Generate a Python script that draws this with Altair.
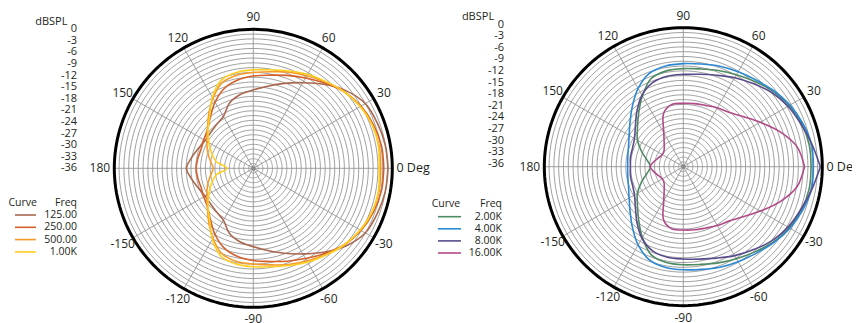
import altair as alt
import pandas as pd
import numpy as np

# ---------------- data ----------------
ANGLES = [0, 10, 20, 30, 40, 50, 60, 70, 80, 90, 100, 110, 120, 130, 140, 150, 160, 170, 180]

LEFT_FREQS = ["125.00", "250.00", "500.00", "1.00K"]
LEFT_COLORS = ["#a9684f", "#d4612b", "#f59b2c", "#ffcf1f"]
DB_125 = [-1.1, -1.3, -1.8, -2.5, -4.7, -7.6, -10.4, -12.6, -14.4, -15.7, -16.6, -18.0, -20.5, -21.2, -21.6, -21.6, -20.9, -19.8, -18.7]
DB_250 = [-2.2, -2.3, -2.9, -3.8, -5.2, -7.2, -9.0, -10.4, -11.5, -12.1, -12.8, -14.0, -16.2, -18.7, -20.5, -21.2, -21.6, -21.4, -21.2]
DB_500 = [-3.0, -2.9, -3.2, -4.0, -5.2, -6.8, -8.3, -9.5, -10.6, -11.2, -11.5, -12.4, -15.1, -18.0, -20.5, -22.1, -23.4, -24.7, -25.6]
DB_1K = [-3.4, -3.1, -3.2, -4.0, -5.2, -6.7, -7.9, -9.2, -10.1, -10.5, -10.8, -11.7, -14.8, -18.4, -20.7, -22.7, -24.5, -26.3, -29.2]

RIGHT_FREQS = ["2.00K", "4.00K", "8.00K", "16.00K"]
RIGHT_COLORS = ["#4e8a63", "#2b88d3", "#5a4b8b", "#b04a88"]
DB_2K = [-2.9, -2.9, -3.4, -4.3, -5.6, -7.2, -8.5, -9.5, -10.3, -10.6, -10.8, -11.7, -14.8, -18.0, -20.5, -22.3, -24.5, -26.5, -27.5]
DB_4K = [-2.3, -2.3, -3.1, -4.1, -5.4, -6.7, -7.6, -8.3, -9.0, -9.3, -9.5, -10.3, -12.6, -15.5, -18.0, -19.8, -20.9, -21.4, -21.6]
DB_8K = [-0.5, -2.2, -3.6, -4.7, -6.1, -7.9, -9.4, -10.8, -11.7, -12.1, -12.2, -12.8, -14.6, -17.3, -19.8, -21.4, -22.0, -22.1, -22.3]
DB_16K = [-4.6, -6.1, -9.4, -13.0, -15.8, -17.6, -18.4, -19.1, -19.4, -19.6, -19.6, -21.2, -25.9, -28.3, -29.5, -29.7, -29.2, -28.3, -27.4]

DB_TICKS = [0, -3, -6, -9, -12, -15, -18, -21, -24, -27, -30, -33, -36]
ANGLE_TICKS = [90, 60, 30, -30, -60, -90, -120, -150, 150, 120]
SPOKES = [0, 30, 60, 90, 120, 150, 180, 210, 240, 270, 300, 330]
DB_MIN = -36
RING_COUNT = 29

FONT = "Open Sans"
TXT = "#231f20"
GRID = "#959595"


def curve_frame(freqs, series):
    rows = []
    for f, vals in zip(freqs, series):
        half = list(zip(ANGLES, vals))
        full = half + [(-a, v) for a, v in reversed(half[1:-1])] + [half[0]]
        for i, (a, v) in enumerate(full):
            rows.append(dict(freq=f, angle=a, db=v, order=i))
    return pd.DataFrame(rows)


ring_df = pd.DataFrame(
    [dict(ring=k, r=k / RING_COUNT, angle=a) for k in range(1, RING_COUNT) for a in range(0, 361, 3)]
)
outer_df = pd.DataFrame([dict(ring=0, r=1.0, angle=a) for a in range(0, 361, 2)])
spoke_df = pd.DataFrame({"angle": SPOKES})
db_df = pd.DataFrame({"db": DB_TICKS, "label": [str(v) for v in DB_TICKS]})
ang_df = pd.DataFrame({"angle": ANGLE_TICKS, "label": [str(v) for v in ANGLE_TICKS]})
one_df = pd.DataFrame({"v": [0]})

R_PX = 139.0
PAGE_W = 844   # drawable width inside the 8px page margins
PAGE_H = 315


def panel(freqs, colors, series, cx_px, cy_px, x0_px, width, label_x_px, db_dy, title_xy, legend, clip_zero):
    xdom = [-(cx_px - x0_px) / R_PX, -(cx_px - x0_px) / R_PX + width / R_PX]
    ydom = [-(8 + PAGE_H - cy_px) / R_PX, (cy_px - 8) / R_PX]
    xs = alt.Scale(domain=xdom, nice=False, zero=False)
    ys = alt.Scale(domain=ydom, nice=False, zero=False)
    X = lambda f: alt.X(f, type="quantitative", scale=xs, axis=None)
    Y = lambda f: alt.Y(f, type="quantitative", scale=ys, axis=None)
    XD = lambda v: alt.X(datum=v, type="quantitative", scale=xs, axis=None)
    YD = lambda v: alt.Y(datum=v, type="quantitative", scale=ys, axis=None)

    rings = alt.Chart(ring_df).mark_line(color=GRID, strokeWidth=0.9).transform_calculate(
        x="datum.r * cos(datum.angle * PI / 180)", y="datum.r * sin(datum.angle * PI / 180)"
    ).encode(x=X("x"), y=Y("y"), detail="ring:N", order="angle:Q")

    spokes = alt.Chart(spoke_df).mark_rule(color=GRID, strokeWidth=0.9).transform_calculate(
        x0="0", y0="0", x1="cos(datum.angle * PI / 180)", y1="sin(datum.angle * PI / 180)"
    ).encode(x=X("x0"), y=Y("y0"), x2="x1:Q", y2="y1:Q")

    outer = alt.Chart(outer_df).mark_line(color="#000000", strokeWidth=3, clip=True).transform_calculate(
        x="datum.r * cos(datum.angle * PI / 180)", y="datum.r * sin(datum.angle * PI / 180)"
    ).encode(x=X("x"), y=Y("y"), order="angle:Q")

    center = alt.Chart(one_df).mark_point(
        filled=True, size=22, color="#888888", opacity=0.9
    ).encode(x=XD(0), y=YD(0))

    curves = alt.Chart(curve_frame(freqs, series)).mark_line(
        strokeWidth=1.6, interpolate="catmull-rom"
    ).transform_calculate(
        r="(datum.db - %d) / %d" % (DB_MIN, -DB_MIN),
    ).transform_calculate(
        x="datum.r * cos(datum.angle * PI / 180)", y="datum.r * sin(datum.angle * PI / 180)"
    ).encode(
        x=X("x"), y=Y("y"),
        color=alt.Color("freq:N", scale=alt.Scale(domain=freqs, range=colors), legend=None),
        order="order:Q",
    )

    ang_text = alt.Chart(ang_df).mark_text(
        font=FONT, fontSize=12, color=TXT, baseline="middle", clip=True
    ).transform_calculate(
        x="1.085 * cos(datum.angle * PI / 180)", y="1.085 * sin(datum.angle * PI / 180)"
    ).encode(x=X("x"), y=Y("y"), text="label:N")

    zero_text = alt.Chart(one_df).mark_text(
        font=FONT, fontSize=12.5, color=TXT, align="left", baseline="middle", text="0 Deg", clip=clip_zero
    ).encode(x=XD(1.03), y=YD(0))
    r180_text = alt.Chart(one_df).mark_text(
        font=FONT, fontSize=12, color=TXT, align="right", baseline="middle", text="180"
    ).encode(x=XD(-1.03), y=YD(0))

    lx = (label_x_px - cx_px) / R_PX
    db_text = alt.Chart(db_df).mark_text(
        font=FONT, fontSize=11, color=TXT, align="right", baseline="middle", dy=db_dy
    ).transform_calculate(
        y="(datum.db - %d) / %d" % (DB_MIN, -DB_MIN)
    ).encode(x=XD(lx), y=Y("y"), text="label:N")

    tx, ty = title_xy
    title = alt.Chart(one_df).mark_text(
        font=FONT, fontSize=11, color=TXT, align="center", baseline="middle", text="dBSPL"
    ).encode(x=XD((tx - cx_px) / R_PX), y=YD((cy_px - ty) / R_PX))

    curve_left, freq_right, head_y, row0_y, row_step, s0, s1 = legend
    hy = (cy_px - head_y) / R_PX
    head_curve = alt.Chart(one_df).mark_text(
        font=FONT, fontSize=10.5, color=TXT, align="left", baseline="middle", text="Curve"
    ).encode(x=XD((curve_left - cx_px) / R_PX), y=YD(hy))
    head_freq = alt.Chart(one_df).mark_text(
        font=FONT, fontSize=10.5, color=TXT, align="right", baseline="middle", text="Freq"
    ).encode(x=XD((freq_right - cx_px) / R_PX), y=YD(hy))

    leg_df = pd.DataFrame({"freq": freqs, "idx": list(range(len(freqs)))})
    y0 = (cy_px - row0_y) / R_PX
    st = row_step / R_PX
    leg_lines = alt.Chart(leg_df).mark_rule(strokeWidth=1.6).transform_calculate(
        ly="%f - datum.idx * %f" % (y0, st),
        lx0="%f" % ((s0 - cx_px) / R_PX), lx1="%f" % ((s1 - cx_px) / R_PX),
    ).encode(
        x=X("lx0"), x2="lx1:Q", y=Y("ly"),
        color=alt.Color("freq:N", scale=alt.Scale(domain=freqs, range=colors), legend=None),
    )
    leg_text = alt.Chart(leg_df).mark_text(
        font=FONT, fontSize=10.5, color=TXT, align="right", baseline="middle"
    ).transform_calculate(
        ly="%f - datum.idx * %f" % (y0, st), lx="%f" % ((freq_right - cx_px) / R_PX)
    ).encode(x=X("lx"), y=Y("ly"), text="freq:N")

    return alt.layer(
        rings, spokes, center, curves, outer, ang_text, zero_text, r180_text,
        db_text, title, head_curve, head_freq, leg_lines, leg_text,
    ).properties(width=width, height=PAGE_H)


LEFT_W = 420
left = panel(
    LEFT_FREQS, LEFT_COLORS, [DB_125, DB_250, DB_500, DB_1K],
    cx_px=253.3, cy_px=168.3, x0_px=8, width=LEFT_W, label_x_px=77, db_dy=0,
    title_xy=(51.3, 21.5),
    legend=(8.5, 77, 203, 215, 12.3, 15, 36), clip_zero=False,
)
right = panel(
    RIGHT_FREQS, RIGHT_COLORS, [DB_2K, DB_4K, DB_8K, DB_16K],
    cx_px=683.3, cy_px=166.7, x0_px=8 + LEFT_W, width=PAGE_W - LEFT_W, label_x_px=504, db_dy=-3,
    title_xy=(478, 17),
    legend=(431.7, 502, 204, 216.7, 12.1, 438, 461), clip_zero=True,
)

chart = alt.hconcat(left, right, spacing=0, bounds="flush").resolve_scale(
    x="independent", y="independent", color="independent"
).properties(
    padding=0, background="white"
).configure_view(stroke=None)

chart.save("out.html", embed_options={"renderer": "svg", "actions": False})
